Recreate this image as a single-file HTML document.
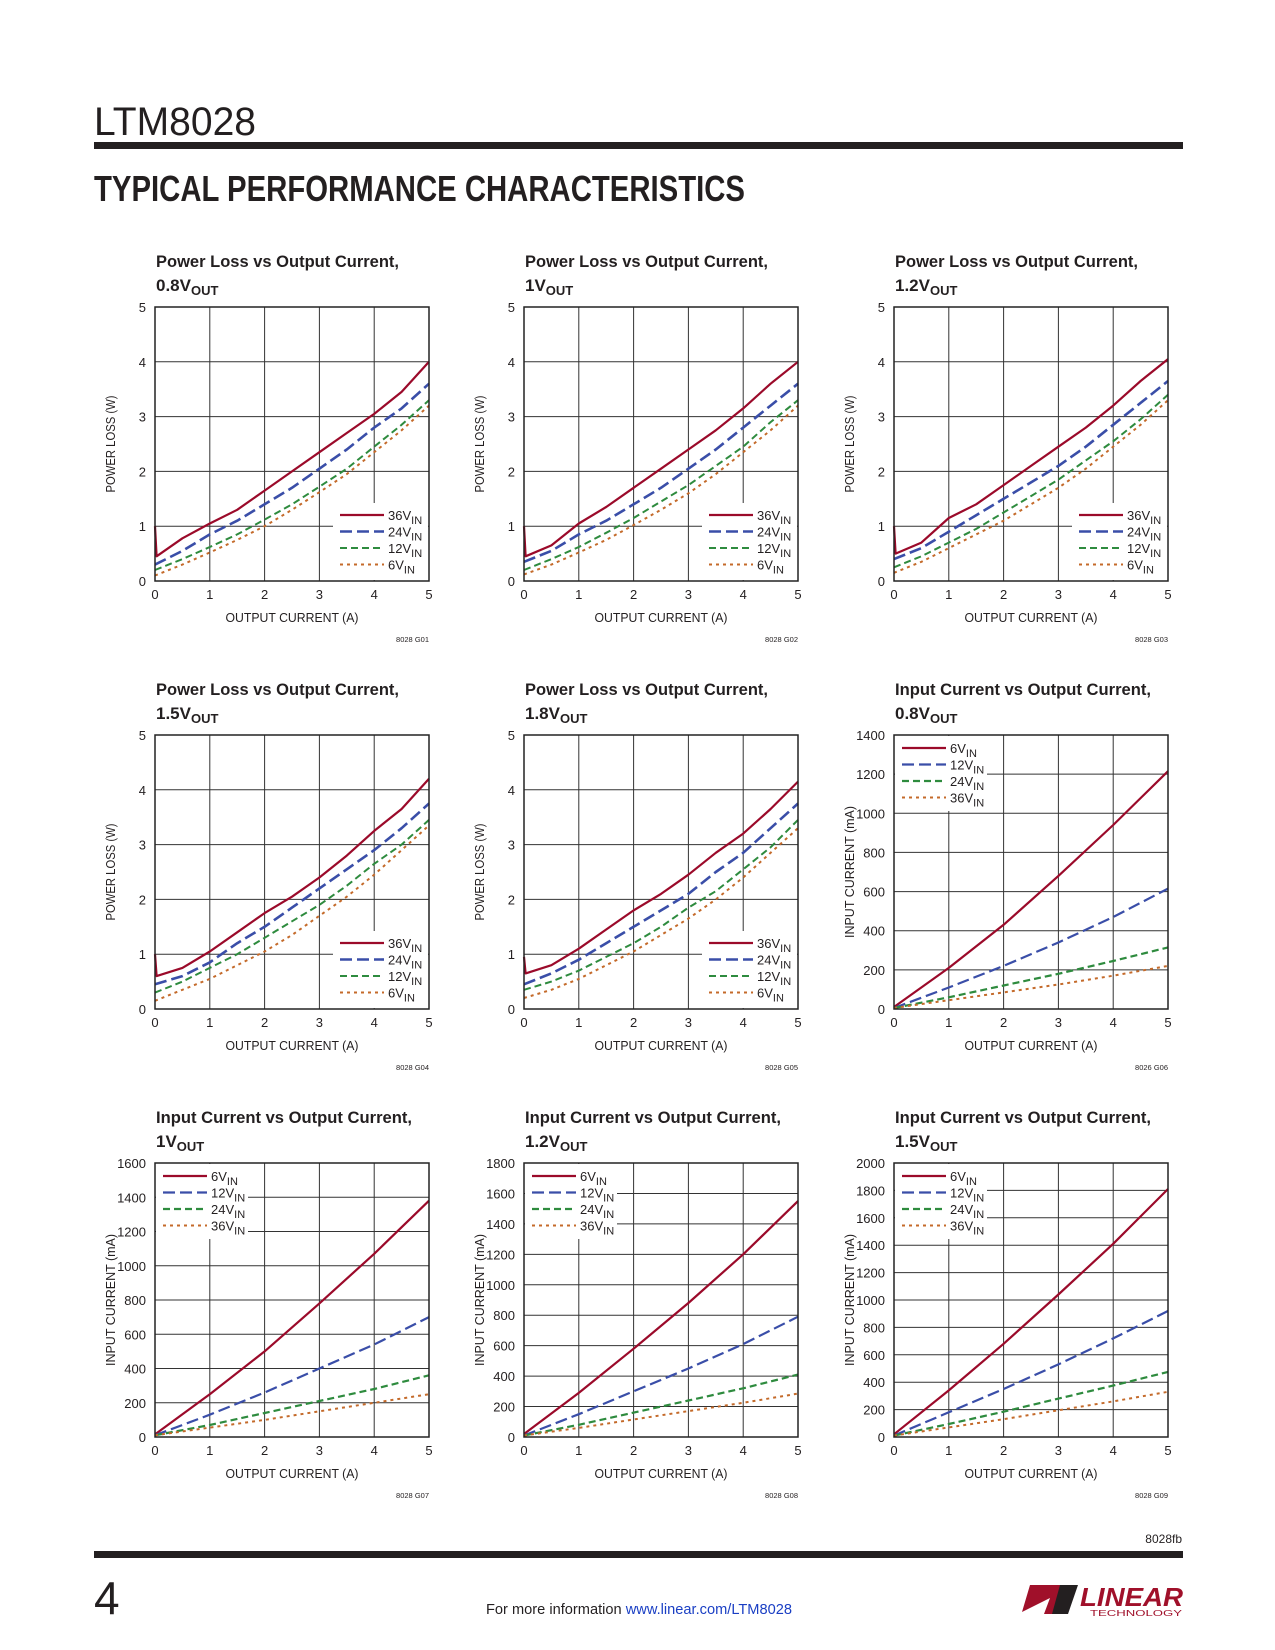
<!DOCTYPE html>
<html><head><meta charset="utf-8"><style>
html,body{margin:0;padding:0;background:#fff;}
svg{display:block;font-family:"Liberation Sans",sans-serif;}
</style></head><body>
<svg id="page" width="1275" height="1650" viewBox="0 0 1275 1650" xmlns="http://www.w3.org/2000/svg">
<text x="94" y="135" font-size="40" fill="#231f20" textLength="162" lengthAdjust="spacingAndGlyphs">LTM8028</text>
<rect x="94" y="142" width="1089" height="7" fill="#231f20"/>
<text x="94" y="201" font-size="36" font-weight="bold" fill="#231f20" textLength="651" lengthAdjust="spacingAndGlyphs">TYPICAL PERFORMANCE CHARACTERISTICS</text>
<text x="1182" y="1543" font-size="12" text-anchor="end" fill="#231f20">8028fb</text>
<rect x="94" y="1551" width="1089" height="7" fill="#231f20"/>
<text x="94" y="1614" font-size="46" fill="#231f20">4</text>
<text x="486" y="1614" font-size="15" fill="#231f20" textLength="306" lengthAdjust="spacingAndGlyphs">For more information <tspan fill="#1a3fc4">www.linear.com/LTM8028</tspan></text>
<g>
<path d="M1030 1585 L1072 1585 L1060 1614 L1044 1614 L1050 1598 L1022 1612 Z" fill="#a0102a"/>
<path d="M1060 1585 L1078 1585 L1068 1614 L1052 1614 Z" fill="#231f20"/>
<text x="1080" y="1606" font-size="26" font-weight="bold" font-style="italic" fill="#a0102a" textLength="103" lengthAdjust="spacingAndGlyphs">LINEAR</text>
<text x="1090" y="1616" font-size="8" fill="#a0102a" textLength="92" lengthAdjust="spacingAndGlyphs">TECHNOLOGY</text>
</g>
<g id="charts"></g>
</svg>
<script>
// ---------- data ----------
const xTickLabels = [0,1,2,3,4,5];
const plTickLabels = [0,1,2,3,4,5];
const xPL = [0,0.5,1,1.5,2,2.5,3,3.5,4,4.5,5];
const xPL36 = [0,0.03,0.5,1,1.5,2,2.5,3,3.5,4,4.5,5];
const xIC = [0,1,2,3,4,5];

const c1_36 = [1.0,0.45,0.78,1.05,1.3,1.65,2.0,2.35,2.7,3.05,3.45,4.0];
const c1_24 = [0.3,0.55,0.85,1.1,1.4,1.7,2.05,2.4,2.8,3.15,3.6];
const c1_12 = [0.2,0.4,0.62,0.85,1.12,1.4,1.72,2.05,2.45,2.85,3.3];
const c1_6  = [0.1,0.3,0.52,0.75,1.0,1.3,1.62,1.95,2.35,2.75,3.2];

const c2_36 = [1.0,0.45,0.65,1.05,1.35,1.7,2.05,2.4,2.75,3.15,3.6,4.0];
const c2_24 = [0.35,0.55,0.85,1.1,1.4,1.7,2.05,2.4,2.8,3.2,3.6];
const c2_12 = [0.2,0.4,0.62,0.88,1.15,1.45,1.75,2.1,2.45,2.9,3.3];
const c2_6  = [0.12,0.3,0.52,0.75,1.02,1.3,1.6,1.95,2.35,2.75,3.2];

const c3_36 = [1.0,0.5,0.7,1.15,1.4,1.75,2.1,2.45,2.8,3.2,3.65,4.05];
const c3_24 = [0.4,0.6,0.9,1.2,1.5,1.8,2.1,2.45,2.85,3.25,3.65];
const c3_12 = [0.25,0.45,0.7,0.95,1.25,1.55,1.85,2.2,2.55,2.95,3.4];
const c3_6  = [0.15,0.35,0.6,0.85,1.1,1.4,1.7,2.05,2.45,2.85,3.3];

const c4_36 = [1.0,0.6,0.75,1.05,1.4,1.75,2.05,2.4,2.8,3.25,3.65,4.2];
const c4_24 = [0.45,0.6,0.85,1.2,1.5,1.85,2.2,2.55,2.9,3.3,3.75];
const c4_12 = [0.3,0.5,0.75,1.0,1.3,1.6,1.9,2.25,2.65,3.0,3.45];
const c4_6  = [0.15,0.35,0.55,0.8,1.05,1.35,1.7,2.05,2.45,2.9,3.35];

const c5_36 = [0.95,0.65,0.8,1.1,1.45,1.8,2.1,2.45,2.85,3.2,3.65,4.15];
const c5_24 = [0.45,0.65,0.9,1.2,1.5,1.8,2.1,2.5,2.85,3.3,3.75];
const c5_12 = [0.35,0.5,0.7,0.95,1.2,1.5,1.85,2.15,2.55,2.95,3.45];
const c5_6  = [0.2,0.35,0.55,0.8,1.05,1.35,1.65,2.0,2.4,2.85,3.3];

const c6_6  = [10,210,430,680,940,1215];
const c6_12 = [5,110,220,340,470,615];
const c6_24 = [5,60,120,180,245,315];
const c6_36 = [5,45,85,125,170,220];
const c6_ticks = [0,200,400,600,800,1000,1200,1400];

const c7_6  = [15,250,500,780,1070,1380];
const c7_12 = [10,130,260,400,540,700];
const c7_24 = [10,70,140,210,280,360];
const c7_36 = [10,55,100,150,200,250];
const c7_ticks = [0,200,400,600,800,1000,1200,1400,1600];

const c8_6  = [20,290,580,880,1200,1550];
const c8_12 = [10,150,300,450,610,790];
const c8_24 = [10,80,160,240,320,410];
const c8_36 = [10,60,115,170,225,285];
const c8_ticks = [0,200,400,600,800,1000,1200,1400,1600,1800];

const c9_6  = [20,340,680,1040,1410,1810];
const c9_12 = [10,180,350,530,720,920];
const c9_24 = [10,95,185,280,375,475];
const c9_36 = [10,70,130,195,260,330];
const c9_ticks = [0,200,400,600,800,1000,1200,1400,1600,1800,2000];

// ---------- styles ----------
const RED="#9b0a2a", BLUE="#3a4ea8", GREEN="#2e8b3e", ORANGE="#c46a2a";
const NS="http://www.w3.org/2000/svg";
const root=document.getElementById('charts');
function mk(tag,attrs,parent){const e=document.createElementNS(NS,tag);for(const k in attrs)e.setAttribute(k,attrs[k]);(parent||root).appendChild(e);return e;}

const W=274,H=274;
function drawChart(o){
  const g=mk('g',{});
  
  
  const L=o.left,T=o.top,ymax=o.yTicks[o.yTicks.length-1];
  const sx=v=>L+v/5*W, sy=v=>T+H-v/ymax*H;
  const t1=mk('text',{x:L+1,y:T-40,'font-size':17,'font-weight':'bold',fill:'#231f20',textLength:o.t1w,lengthAdjust:'spacingAndGlyphs'},g);
  t1.textContent=o.title;
  
  
  const t2=mk('text',{x:L+1,y:T-16,'font-size':17,'font-weight':'bold',fill:'#231f20'},g);
  
  
  t2.appendChild(document.createTextNode(o.vout+'V'));
  const s=mk('tspan',{dy:4,'font-size':13},t2);s.textContent='OUT';
  for(const v of xTickLabels){
    const l=mk('line',{x1:sx(v),x2:sx(v),y1:T,y2:T+H,stroke:'#333','stroke-width':1},g);
    
    
    const tx=mk('text',{x:sx(v),y:T+H+18,'font-size':13,'text-anchor':'middle',fill:'#231f20'},g);
    tx.textContent=v;
    
    
  }
  for(const v of o.yTicks){
    const l=mk('line',{x1:L,x2:L+W,y1:sy(v),y2:sy(v),stroke:'#333','stroke-width':1},g);
    
    
    const ty=mk('text',{x:L-9,y:sy(v)+5,'font-size':13,'text-anchor':'end',fill:'#231f20'},g);
    ty.textContent=v;
    
    
  }
  const lb=o.legendTop?{x:L+1,y:T+1,w:92,h:75}:{x:L+178,y:T+196,w:W-179,h:H-197};
  mk('rect',{x:lb.x,y:lb.y,width:lb.w,height:lb.h,fill:'#fff'},g);
  o.series.forEach((sr,i)=>{
    const pts=sr.x.map((xv,j)=>sx(xv).toFixed(1)+','+sy(sr.y[j]).toFixed(1)).join(' ');
    const p=mk('polyline',{points:pts,fill:'none',stroke:sr.c,'stroke-width':sr.w,'stroke-dasharray':sr.d,'stroke-linejoin':'round'},g);
    
    
    const ly=o.legendTop?T+13+i*16.5:T+208+i*16.5;
    const lx=o.legendTop?L+8:L+185;
    const ll=mk('line',{x1:lx,x2:lx+44,y1:ly,y2:ly,stroke:sr.c,'stroke-width':sr.w,'stroke-dasharray':sr.d},g);
    
    
    const lt=mk('text',{x:lx+48,y:ly+5,'font-size':13,fill:'#231f20'},g);
    
    
    lt.appendChild(document.createTextNode(sr.label+'V'));
    const ts=mk('tspan',{dy:4,'font-size':11},lt);ts.textContent='IN';
  });
  const fr=mk('rect',{x:L,y:T,width:W,height:H,fill:'none',stroke:'#222','stroke-width':1.5},g);
  
  
  const xt=mk('text',{x:L+W/2,y:T+H+41,'font-size':13,'text-anchor':'middle',fill:'#231f20',textLength:133,lengthAdjust:'spacingAndGlyphs'},g);
  xt.textContent='OUTPUT CURRENT (A)';
  
  
  const ytl=o.legendTop?'INPUT CURRENT (mA)':'POWER LOSS (W)';
  const yt=mk('text',{x:0,y:0,'font-size':13,'text-anchor':'middle',fill:'#231f20',transform:`translate(${L-40},${T+H/2}) rotate(-90)`,textLength:o.legendTop?132:97,lengthAdjust:'spacingAndGlyphs'},g);
  yt.textContent=ytl;
  
  
  const id=mk('text',{x:L+W,y:T+H+61,'font-size':7.5,'text-anchor':'end',fill:'#231f20'},g);
  id.textContent=o.id;
  
  
}
function plSeries(a36,a24,a12,a6){return [
  {label:'36',x:xPL36,y:a36,c:RED,w:2.2,d:''},
  {label:'24',x:xPL,y:a24,c:BLUE,w:2.6,d:'12,5'},
  {label:'12',x:xPL,y:a12,c:GREEN,w:2,d:'7,4'},
  {label:'6',x:xPL,y:a6,c:ORANGE,w:2,d:'3,4'}];}
function icSeries(a6,a12,a24,a36){return [
  {label:'6',x:xIC,y:a6,c:RED,w:2.2,d:''},
  {label:'12',x:xIC,y:a12,c:BLUE,w:2.2,d:'12,5'},
  {label:'24',x:xIC,y:a24,c:GREEN,w:2.2,d:'7,4'},
  {label:'36',x:xIC,y:a36,c:ORANGE,w:2,d:'3,4'}];}
const cols=[155,524,894], rows=[307,735,1163];
const PLT='Power Loss vs Output Current,', ICT='Input Current vs Output Current,';
drawChart({name:'chart-power-loss-0v8',left:cols[0],top:rows[0],title:PLT,t1w:243,vout:'0.8',yTicks:plTickLabels,series:plSeries(c1_36,c1_24,c1_12,c1_6),id:'8028 G01'});
drawChart({name:'chart-power-loss-1v',left:cols[1],top:rows[0],title:PLT,t1w:243,vout:'1',yTicks:plTickLabels,series:plSeries(c2_36,c2_24,c2_12,c2_6),id:'8028 G02'});
drawChart({name:'chart-power-loss-1v2',left:cols[2],top:rows[0],title:PLT,t1w:243,vout:'1.2',yTicks:plTickLabels,series:plSeries(c3_36,c3_24,c3_12,c3_6),id:'8028 G03'});
drawChart({name:'chart-power-loss-1v5',left:cols[0],top:rows[1],title:PLT,t1w:243,vout:'1.5',yTicks:plTickLabels,series:plSeries(c4_36,c4_24,c4_12,c4_6),id:'8028 G04'});
drawChart({name:'chart-power-loss-1v8',left:cols[1],top:rows[1],title:PLT,t1w:243,vout:'1.8',yTicks:plTickLabels,series:plSeries(c5_36,c5_24,c5_12,c5_6),id:'8028 G05'});
drawChart({name:'chart-input-current-0v8',left:cols[2],top:rows[1],title:ICT,t1w:256,vout:'0.8',yTicks:c6_ticks,legendTop:true,series:icSeries(c6_6,c6_12,c6_24,c6_36),id:'8026 G06'});
drawChart({name:'chart-input-current-1v',left:cols[0],top:rows[2],title:ICT,t1w:256,vout:'1',yTicks:c7_ticks,legendTop:true,series:icSeries(c7_6,c7_12,c7_24,c7_36),id:'8028 G07'});
drawChart({name:'chart-input-current-1v2',left:cols[1],top:rows[2],title:ICT,t1w:256,vout:'1.2',yTicks:c8_ticks,legendTop:true,series:icSeries(c8_6,c8_12,c8_24,c8_36),id:'8028 G08'});
drawChart({name:'chart-input-current-1v5',left:cols[2],top:rows[2],title:ICT,t1w:256,vout:'1.5',yTicks:c9_ticks,legendTop:true,series:icSeries(c9_6,c9_12,c9_24,c9_36),id:'8028 G09'});
</script>
</body></html>
